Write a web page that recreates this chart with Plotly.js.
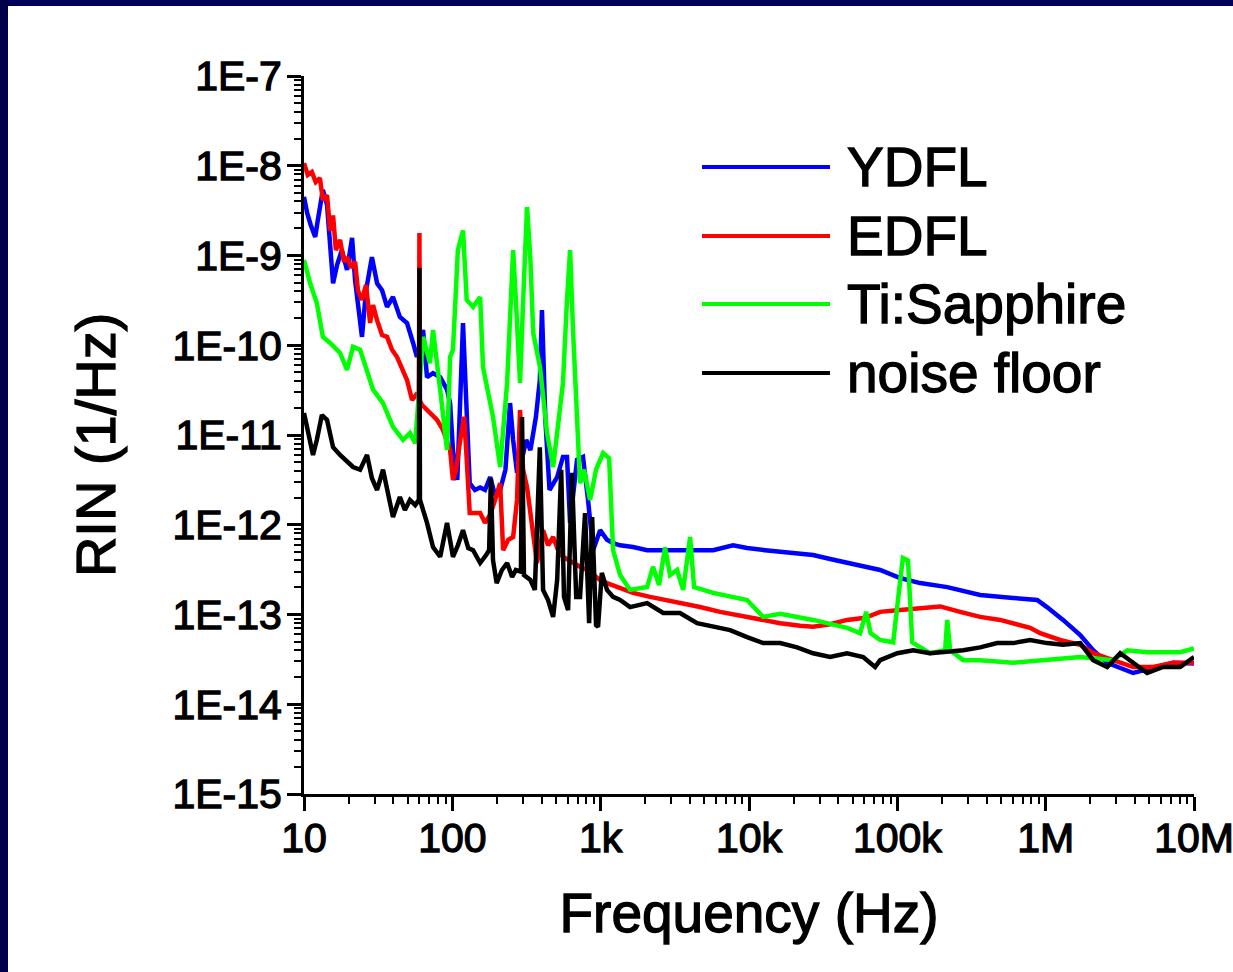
<!DOCTYPE html>
<html>
<head>
<meta charset="utf-8">
<script src="https://cdn.plot.ly/plotly-3.0.1.min.js"></script>
<style>
  html, body { margin: 0; padding: 0; width: 1233px; height: 972px; overflow: hidden; background: #ffffff; }
  #chart { position: absolute; left: 8px; top: 6px; width: 1225px; height: 966px; }
  #topbar { position: absolute; left: 0; top: 0; width: 1233px; height: 6px; background: #00005a; }
  #leftbar { position: absolute; left: 0; top: 0; width: 8px; height: 972px; background: #00004a; }
  #chart text { stroke: #000; stroke-width: 1.3px; }
</style>
</head>
<body>
<div id="chart"></div>
<div id="topbar"></div>
<div id="leftbar"></div>
<script>
// ---- tick labels ----
const xTickVals = [10, 100, 1e3, 1e4, 1e5, 1e6, 1e7];
const xTickText = ['10', '100', '1k', '10k', '100k', '1M', '10M'];
const yTickVals = [1e-15, 1e-14, 1e-13, 1e-12, 1e-11, 1e-10, 1e-9, 1e-8, 1e-7];
const yTickText = ['1E-15', '1E-14', '1E-13', '1E-12', '1E-11', '1E-10', '1E-9', '1E-8', '1E-7'];

// ---- series names ----
const seriesNames = ['YDFL', 'EDFL', 'Ti:Sapphire', 'noise floor'];

// ---- YDFL ----
const ydflFreq = [10,10.5,11.1,11.9,12.4,13.4,14.3,15.0,15.7,16.7,18.0,19.5,21.1,22.1,23.1,24.6,26.2,28.7,31.1,33.6,36.3,39.8,44.3,49.5,54.4,57.7,63.5,67.5,74.1,82.8,92.1,96.6,101,108,113,118,124,131,142,154,166,180,194,210,228,245,257,273,294,315,336,366,389,402,424,452,509,557,593,622,693,760,822,889,991,1104,1213,1352,1653,2056,2805,3428,4677,5730,7810,9705,12840,16220,22130,27050,35240,45810,60660,76560,104500,142500,217000,361600,603500,877000,1.02e6,1.31e6,1.71e6,2.09e6,2.6e6,3.89e6,5.31e6,7.24e6,1e7];
const ydflRin = [4.5e-9,2.98e-9,2.19e-9,1.61e-9,2.49e-9,5.4e-9,3.66e-9,1.49e-9,4.9e-10,7.8e-10,1.15e-9,6.9e-10,1.57e-9,5.3e-10,2.8e-10,1.24e-10,4.1e-10,9.6e-10,4.9e-10,4.1e-10,2.67e-10,3.45e-10,2.07e-10,1.77e-10,1.06e-10,7.4e-11,1.48e-10,4.4e-11,4.9e-11,4.4e-11,3.2e-11,2.27e-11,6.8e-12,3.15e-12,2.45e-11,1.77e-10,2.45e-11,2.9e-12,2.44e-12,2.6e-12,2.44e-12,3.4e-12,2.14e-12,2.44e-12,4.1e-12,2.27e-11,8.8e-12,3.8e-12,5.3e-12,8.8e-12,6.8e-12,1.59e-11,4.1e-11,2.47e-10,1.47e-11,2.44e-12,3.4e-12,5.7e-12,5.7e-12,1.05e-12,5.3e-12,5.7e-12,1.89e-12,5.2e-13,8.7e-13,6.8e-13,6.25e-13,5.9e-13,5.65e-13,5.2e-13,5.2e-13,5.2e-13,5.1e-13,5.2e-13,5.9e-13,5.5e-13,5.2e-13,4.97e-13,4.72e-13,4.6e-13,4.15e-13,3.75e-13,3.4e-13,3.13e-13,2.55e-13,2.24e-13,2.02e-13,1.65e-13,1.53e-13,1.45e-13,1.21e-13,8.7e-14,5.9e-14,4.0e-14,2.9e-14,2.23e-14,2.54e-14,2.9e-14,2.85e-14];

// ---- EDFL ----
const edflFreq = [10,10.6,11.3,12.0,12.8,13.4,14.3,15.0,15.7,16.4,17.5,18.6,19.5,20.8,22.1,23.1,24.6,26.2,27.9,29.2,31.1,33.6,36.3,39.2,42.4,45.8,49.5,53.5,56.9,59.5,60,60.5,62.5,67.5,73,78.9,86.5,92.1,96.6,101,106,113,120,124,131,142,154,166,180,194,210,220,238,257,273,286,300,319,340,372,409,442,478,516,557,603,651,726,809,889,991,1104,1352,1653,2153,2805,3428,4677,6383,9705,12840,16220,22130,27050,35240,45810,60660,76560,104500,142500,194500,265000,361600,493200,603500,785900,918400,1.25e6,1.71e6,2.09e6,2.85e6,3.89e6,5.31e6,7.24e6,1e7];
const edflRin = [1.07e-8,7.9e-9,8.5e-9,6.6e-9,7.3e-9,4.15e-9,4.7e-9,1.9e-9,2.8e-9,1.15e-9,1.49e-9,8.5e-10,9.6e-10,7.3e-10,8.5e-10,4.1e-10,3.2e-10,4.7e-10,1.77e-10,2.8e-10,1.9e-10,1.3e-10,1.24e-10,8.9e-11,7.4e-11,5.3e-11,4.1e-11,2.45e-11,2.8e-11,2.6e-11,1.78e-9,2.4e-11,2.16e-11,1.9e-11,1.67e-11,1.47e-11,1.14e-11,8.8e-12,6.8e-12,3.15e-12,4.1e-12,8.8e-12,1.59e-11,6.8e-12,1.35e-12,1.35e-12,1.35e-12,1.05e-12,1.29e-12,1.89e-12,2.9e-12,5.2e-13,6.8e-13,7.3e-13,1.89e-12,1.9e-11,4.1e-12,2.6e-12,1.13e-12,3.75e-13,8.7e-13,5.9e-13,7.3e-13,5.2e-13,4.4e-13,4.05e-13,3.75e-13,3.4e-13,3.13e-13,2.75e-13,2.42e-13,2.24e-13,1.97e-13,1.74e-13,1.57e-13,1.45e-13,1.34e-13,1.21e-13,1.07e-13,9.4e-14,8.7e-14,8.0e-14,7.5e-14,7.3e-14,7.8e-14,8.7e-14,9.2e-14,1.07e-13,1.12e-13,1.17e-13,1.23e-13,1.07e-13,9.4e-14,8.7e-14,8.0e-14,7.1e-14,6.2e-14,5.2e-14,4.6e-14,3.7e-14,3.1e-14,2.6e-14,2.6e-14,2.9e-14,2.9e-14];

// ---- Ti:Sapphire ----
const tisFreq = [10,11.0,12.2,13.4,15.0,17.5,19.5,21.4,23.9,26.6,29.2,34.1,39.8,46.5,51.8,56.2,63.5,70.6,74.1,82.8,92.1,96.6,101,109,118,125,138,154,161,188,210,234,257,268,286,304,319,336,351,390,435,478,516,557,593,622,651,693,726,773,849,931,1038,1140,1213,1352,1578,2056,2253,2475,2716,2937,3275,3597,4008,4263,5730,9705,12450,16220,27050,45810,56100,61700,66000,76560,93800,101000,109000,118000,126000,166000,210000,217000,227000,278000,361600,603500,1.02e6,1.71e6,2.85e6,3.55e6,4.83e6,8.07e6,1e7];
const tisRin = [8.9e-10,4.9e-10,2.96e-10,1.24e-10,1.06e-10,8.2e-11,5.3e-11,9.6e-11,8.9e-11,5.3e-11,3.2e-11,2.27e-11,1.23e-11,8.8e-12,1.05e-11,8.1e-12,1.24e-10,6.3e-11,1.48e-10,3.2e-11,6.8e-12,7.4e-11,8.9e-11,1.15e-9,1.9e-9,3.2e-10,2.67e-10,3.45e-10,5.7e-11,1.59e-11,4.4e-12,3.8e-11,1.15e-9,3.2e-10,3.8e-11,5.3e-10,3.47e-9,8.9e-10,1.37e-10,5.7e-11,1.05e-11,4.4e-12,1.47e-11,3.8e-11,3.2e-10,1.15e-9,1.48e-10,1.59e-11,2.9e-12,4.1e-12,1.89e-12,4.1e-12,6.3e-12,5.5e-12,5.2e-13,2.75e-13,1.88e-13,2.02e-13,3.4e-13,2.13e-13,5.6e-13,2.75e-13,3.13e-13,1.88e-13,7.3e-13,2.02e-13,1.74e-13,1.45e-13,9.4e-14,1.02e-13,8.7e-14,7.1e-14,6.2e-14,1.07e-13,6.2e-14,5.2e-14,4.9e-14,1.45e-13,4.26e-13,4.0e-13,4.9e-14,3.7e-14,4.0e-14,8.7e-14,4.0e-14,3.1e-14,3.1e-14,2.9e-14,3.1e-14,3.36e-14,3.1e-14,4.0e-14,3.8e-14,3.8e-14,4.2e-14];

// ---- noise floor ----
const noiseFreq = [10,10.6,11.5,12.2,13.2,14.3,15.7,17.5,19.5,21.4,23.9,26.6,28.7,31.1,34.1,36.8,39.8,44.3,47.9,51.8,56.2,59.5,60,60.5,67.5,74.1,82.8,92.1,101,109,118,128,138,154,169,177,182,188,199,216,234,253,268,290,295,304,336,360,389,409,442,478,509,542,566,603,640,684,726,785,836,876,931,960,1018,1104,1213,1352,1578,2056,2640,3428,4467,5730,7460,9705,12450,16220,21100,27050,35240,45810,58800,70800,76560,100000,128000,166000,217000,278000,361600,471000,603500,785900,1.02e6,1.31e6,1.71e6,2.09e6,2.6e6,3.18e6,3.89e6,4.83e6,6.19e6,8.07e6,1e7];
const noiseRin = [1.76e-11,1.14e-11,6.0e-12,8.8e-12,1.67e-11,1.47e-11,7.3e-12,6.0e-12,5.0e-12,4.4e-12,4.1e-12,6.0e-12,3.3e-12,2.44e-12,4.1e-12,2.14e-12,1.22e-12,2.04e-12,1.46e-12,1.89e-12,1.66e-12,1.89e-12,7.3e-10,1.9e-12,1.05e-12,5.65e-13,4.4e-13,1.05e-12,4.4e-13,5.9e-13,8.7e-13,5.5e-13,5.2e-13,3.75e-13,4.6e-13,5.2e-13,3.3e-12,4.05e-13,2.24e-13,3.13e-13,3.75e-13,2.62e-13,3.13e-13,3.0e-13,1.59e-11,2.75e-13,2.42e-13,1.88e-13,7.3e-12,1.88e-13,1.45e-13,9.4e-14,2.42e-13,4.1e-12,1.57e-13,1.12e-13,3.8e-12,1.57e-13,1.57e-13,1.35e-12,8.0e-14,1.22e-12,7.6e-14,7.3e-14,2.9e-13,1.88e-13,1.57e-13,1.45e-13,1.21e-13,1.34e-13,1.04e-13,1.04e-13,8.0e-14,7.3e-14,6.7e-14,5.6e-14,4.8e-14,4.8e-14,4.3e-14,3.7e-14,3.36e-14,3.7e-14,3.36e-14,2.6e-14,3.1e-14,3.7e-14,4.0e-14,3.7e-14,3.8e-14,4.0e-14,4.3e-14,4.8e-14,4.8e-14,5.2e-14,4.8e-14,4.6e-14,4.8e-14,3.1e-14,2.6e-14,3.7e-14,2.9e-14,2.23e-14,2.6e-14,2.6e-14,3.36e-14];

// ---- colours ----
const seriesColors = ['#0000ff', '#ff0000', '#00ff00', '#000000'];

const FONT = 'Liberation Sans, Arial, Helvetica, sans-serif';

function minorVals(lo, hi) {
  const out = [];
  for (let e = lo; e < hi; e++) for (let m = 2; m <= 9; m++) out.push(m * Math.pow(10, e));
  return out;
}

const xs = [ydflFreq, edflFreq, tisFreq, noiseFreq];
const ys = [ydflRin, edflRin, tisRin, noiseRin];

const traces = seriesNames.map((name, i) => ({
  type: 'scatter', mode: 'lines', name: name,
  x: xs[i], y: ys[i],
  line: { color: seriesColors[i], width: 4.5 },
  showlegend: false, hoverinfo: 'skip'
}));

// manual legend (long line samples like the original)
const legY = [0.8733, 0.7772, 0.6825, 0.5864];
const shapes = seriesNames.map((n, i) => ({
  type: 'line', xref: 'paper', yref: 'paper',
  x0: 0.4472, x1: 0.5910, y0: legY[i], y1: legY[i],
  line: { color: seriesColors[i], width: 4 }
}));
const annotations = seriesNames.map((n, i) => ({
  xref: 'paper', yref: 'paper', x: 0.6079, y: legY[i],
  xanchor: 'left', yanchor: 'middle', showarrow: false,
  text: n, font: { family: FONT, size: 55, color: '#000' }
}));
// y-axis title
annotations.push({
  xref: 'paper', yref: 'paper', x: -0.2348, y: 0.486,
  xanchor: 'center', yanchor: 'middle', showarrow: false, textangle: -90,
  text: 'RIN (1/Hz)', font: { family: FONT, size: 56, color: '#000' }
});

const axisCommon = {
  type: 'log', showline: true, linewidth: 3, linecolor: '#000',
  ticks: 'outside', ticklen: 14, tickwidth: 3, tickcolor: '#000',
  showgrid: false, zeroline: false, mirror: false,
  tickmode: 'array', ticklabeloverflow: 'allow',
  tickfont: { family: FONT, size: 41, color: '#000' }
};

const layout = {
  width: 1225, height: 966,
  margin: { l: 296, r: 39, t: 70, b: 178 },
  paper_bgcolor: '#ffffff', plot_bgcolor: '#ffffff',
  showlegend: false,
  xaxis: Object.assign({}, axisCommon, {
    range: [1, 7], tickvals: xTickVals, ticktext: xTickText,
    ticklabelstandoff: -8,
    minor: { tickmode: 'array', tickvals: minorVals(1, 7), ticks: 'outside', ticklen: 7, tickwidth: 2, tickcolor: '#000', showgrid: false },
    title: { text: 'Frequency (Hz)', font: { family: FONT, size: 55, color: '#000' }, standoff: 34 }
  }),
  yaxis: Object.assign({}, axisCommon, {
    range: [-15, -7], tickvals: yTickVals, ticktext: yTickText,
    ticklabelstandoff: -3,
    minor: { tickmode: 'array', tickvals: minorVals(-15, -7), ticks: 'outside', ticklen: 7, tickwidth: 2, tickcolor: '#000', showgrid: false }
  }),
  shapes: shapes,
  annotations: annotations
};

Plotly.newPlot('chart', traces, layout, { displayModeBar: false, staticPlot: true });
</script>
</body>
</html>
